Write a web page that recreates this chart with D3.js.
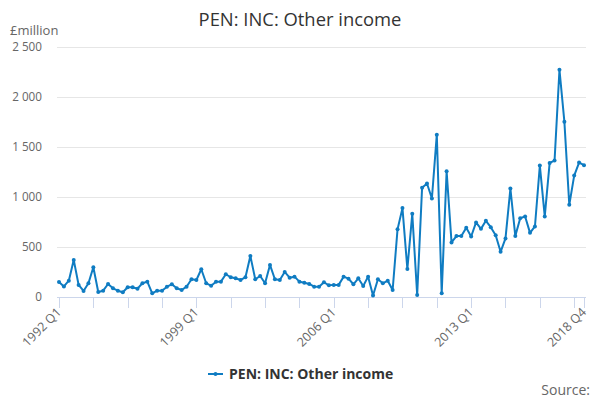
<!DOCTYPE html>
<html><head><meta charset="utf-8">
<script src="https://cdn.jsdelivr.net/npm/d3@7"></script>
<style>body{margin:0;background:#fff;} text{font-family:"Open Sans","DejaVu Sans",sans-serif;}</style>
</head><body><svg id="c" width="600" height="400"></svg>
<script>
const title = "PEN: INC: Other income";
const unitLabel = "£million";
const seriesName = "PEN: INC: Other income";
const startYear = 1992;
const values = [150,105,163,370,120,60,137,297,50,63,130,87,63,47,97,97,83,137,153,37,
63,63,103,127,87,70,103,177,170,277,137,113,153,153,227,197,187,170,197,410,
177,210,137,320,177,170,250,193,203,153,143,130,103,103,147,117,121,121,203,183,
127,187,110,203,15,177,137,163,70,677,887,280,830,20,1090,1133,983,1620,37,1255,
545,608,608,692,604,744,680,760,697,617,451,585,1083,608,787,804,640,704,1312,804,
1338,1362,2268,1750,920,1212,1342,1315];
const categories = values.map((_, i) => (startYear + Math.floor(i / 4)) + " Q" + (i % 4 + 1));
const yTicks = [0, 500, 1000, 1500, 2000, 2500];
const xLabelIdx = [0, 28, 56, 84, 107];

const svg = d3.select("#c");
const color = "#0f7cc2";
const x = d3.scaleLinear().domain([0, categories.length - 1]).range([59, 584]);
const y = d3.scaleLinear().domain([0, 2500]).range([297, 46.5]);
const fmt = v => d3.format(",")(v).replace(/,/g, " ");

// gridlines
svg.append("g").selectAll("line").data(yTicks.slice(1)).join("line")
  .attr("x1", 57).attr("x2", 586).attr("y1", d => Math.round(y(d)) + 0.5).attr("y2", d => Math.round(y(d)) + 0.5)
  .attr("stroke", "#e6e6e6").attr("stroke-width", 1);
// y labels
svg.append("g").selectAll("text").data(yTicks).join("text")
  .attr("x", 42).attr("y", d => y(d) + 4).attr("text-anchor", "end")
  .attr("font-size", 11.7).attr("fill", "#666").text(fmt);
svg.append("text").attr("x", 10).attr("y", 35).attr("font-size", 13).attr("fill", "#666").text(unitLabel);

// x axis
const tickIdx = d3.range(0, categories.length, 7).concat([categories.length - 1]);
svg.append("line").attr("x1", 57).attr("x2", 586).attr("y1", 297.5).attr("y2", 297.5).attr("stroke", "#ccd6eb");
svg.append("g").selectAll("line").data(tickIdx).join("line")
  .attr("x1", d => Math.round(x(d)) + 0.5).attr("x2", d => Math.round(x(d)) + 0.5)
  .attr("y1", 297.5).attr("y2", 308).attr("stroke", "#ccd6eb");
svg.append("g").selectAll("text").data(xLabelIdx).join("text")
  .attr("transform", d => `translate(${x(d) + 3},${313}) rotate(-45)`)
  .attr("text-anchor", "end").attr("font-size", 12.5).attr("fill", "#666")
  .text(d => categories[d]);

// line
const line = d3.line().x((d, i) => x(i)).y(d => y(d));
svg.append("path").datum(values).attr("d", line).attr("fill", "none")
  .attr("stroke", color).attr("stroke-width", 2).attr("stroke-linejoin", "round");
svg.append("g").selectAll("circle").data(values).join("circle")
  .attr("cx", (d, i) => x(i)).attr("cy", d => y(d)).attr("r", 2).attr("fill", color);

// title
svg.append("text").attr("x", 300).attr("y", 26).attr("text-anchor", "middle")
  .attr("font-size", 18.4).attr("fill", "#333").text(title);

// legend
const lg = svg.append("g");
lg.append("line").attr("x1", 208).attr("x2", 223).attr("y1", 374).attr("y2", 374).attr("stroke", color).attr("stroke-width", 2);
lg.append("circle").attr("cx", 215.5).attr("cy", 374).attr("r", 2).attr("fill", color);
lg.append("text").attr("x", 229).attr("y", 379).attr("font-size", 14).attr("font-weight", "bold").attr("fill", "#333").text(seriesName);

svg.append("text").attr("x", 590).attr("y", 395).attr("text-anchor", "end").attr("font-size", 14).attr("fill", "#666").text("Source:");
</script></body></html>
